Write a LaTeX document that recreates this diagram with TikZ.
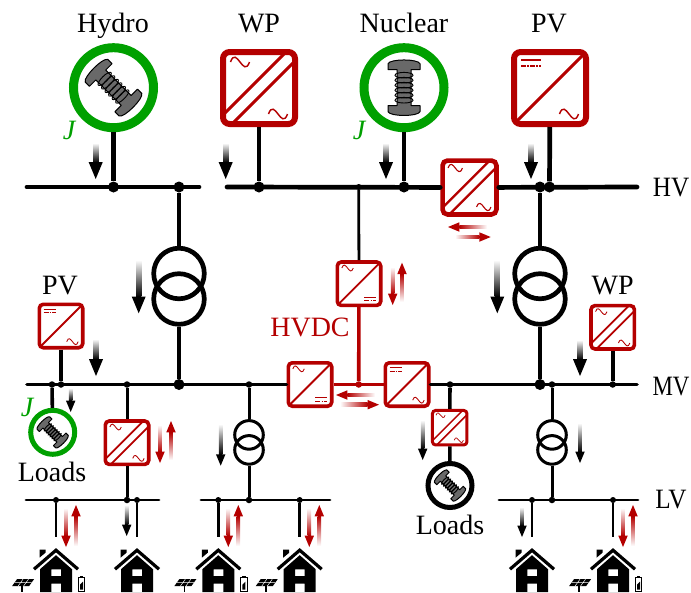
\documentclass[tikz,border=0pt]{standalone}
\usepackage{fontspec}
\setmainfont{Liberation Serif}
\definecolor{convred}{RGB}{180,0,0}
\definecolor{syncgreen}{RGB}{0,160,0}
\definecolor{boltgray}{RGB}{105,105,105}
\tikzset{
  tag/.style={font=\fontsize{28}{30}\selectfont,inner sep=0pt,anchor=base},
  hvline/.style={line width=4.7pt,line cap=round},
  mvline/.style={line width=3.6pt,line cap=round},
  lvline/.style={line width=2.8pt,line cap=round},
  busdot/.style={circle,fill=black,inner sep=0pt,minimum size=#1},
  busdot/.default=6.5pt,
  convbox/.style={draw=convred,fill=white,inner sep=0pt},
  diagline/.style={draw=convred,line width=0.5pt*\convlw},
  symline/.style={draw=convred,line width=0.24pt*\convlw},
  solar/.pic={\fill (-39,31.5) -- (-22,31.5) -- (-27,38.5) -- (-44,38.5) -- cycle;
    \draw[white,line width=.5pt] (-41.5,35) -- (-24.5,35) (-33,31.5) -- (-38,38.5) (-27.5,31.5) -- (-32.5,38.5);
    \draw[line width=1.6pt] (-34,38) -- (-34,44);},
  battery/.pic={\draw[line width=1.1pt] (22.2,29.5) rectangle (28.8,43.5);
    \fill (23.8,27.8) rectangle (27.2,29.5);
    \fill (24,37) -- (27,34) -- (27,42) -- (24,42) -- cycle;},
  housepic/.pic={\fill (-16.5,2) -- (-10.5,2) -- (-10.5,5) -- (-16.5,10) -- cycle;
    \draw[line width=3.2pt] (-22,21.5) -- (0,2.5) -- (22,21.5);
    \fill[even odd rule] (0,7.5) -- (16,21.5) -- (16,44.5) -- (-16,44.5) -- (-16,21.5) -- cycle
      (-4.7,21.7) rectangle (5,28.5) (-4.7,36) rectangle (5,44.5);}
}
\newcommand{\sinewave}[2]{\draw[symline,shift={(#1,#2)}] (-9.5,0) .. controls (-3.5,-17) and (3.5,17) .. (9.5,0);}
\newcommand{\dcmark}[2]{
  \draw[symline,shift={(#1,#2)}] (-10,-3) -- (10,-3);
  \draw[symline,shift={(#1,#2)},dash pattern=on 5pt off 1.2pt on 1.5pt off 1.2pt] (-10,3) -- (10,3);
}
\newcommand{\convAA}{
  \draw[diagline] (-36,27) -- (27,-36);
  \draw[diagline] (-27,36) -- (36,-27);
  \sinewave{-19}{-26}\sinewave{19}{26}
}
\newcommand{\convDA}{
  \draw[diagline] (-34,34) -- (34,-34);
  \dcmark{-19}{-25}\sinewave{19}{26}
}
\newcommand{\convAD}{
  \draw[diagline] (-34,34) -- (34,-34);
  \sinewave{-19}{-26}\dcmark{19}{25}
}
% converter: name, x, y, size, line width, kind
\newcommand{\conv}[6]{
  \node[convbox,minimum size=#4pt-#5pt,line width=#5pt,rounded corners=#4*0.085pt] (#1) at (#2,#3) {};
  \def\convlw{#5}
  \begin{scope}[shift={(#2,#3)},scale=#4/78]
    #6
  \end{scope}
}
% machine: name, x, y, radius, line width, colour, rotation
\newcommand{\machine}[7]{
  \node[circle,draw=#6,line width=#5pt,fill=white,inner sep=0pt,minimum size=2*#4pt] (#1) at (#2,#3) {};
  \begin{scope}[shift={(#2,#3)},rotate=#7,scale=#4/40]
    \draw[fill=boltgray,line width=1pt,line join=round] (-16,-18) -- (-16,-24) .. controls (-14,-29) and (14,-29) .. (16,-24)
      -- (16,-18) -- (7,-18) -- (7,18) -- (16,18) -- (16,24) .. controls (14,29) and (-14,29) .. (-16,24)
      -- (-16,18) -- (-7,18) -- (-7,-18) -- cycle;
    \foreach \yy in {-12.5,-7.5,...,12.5}
      \draw[line width=.9pt] (0,\yy) ellipse (9 and 2.8);
  \end{scope}
}
\newcommand{\flowdown}[5]{
  \shade[top color=white,bottom color=#1] (#2-0.185*#5,#3) rectangle (#2+0.185*#5,#4-1.2*#5);
  \fill[#1] (#2-0.5*#5,#4-1.2*#5) -- (#2+0.5*#5,#4-1.2*#5) -- (#2,#4) -- cycle;
}
\newcommand{\flowup}[5]{
  \shade[bottom color=white,top color=#1] (#2-0.185*#5,#3) rectangle (#2+0.185*#5,#4+1.2*#5);
  \fill[#1] (#2-0.5*#5,#4+1.2*#5) -- (#2+0.5*#5,#4+1.2*#5) -- (#2,#4) -- cycle;
}
\newcommand{\flowleft}[5]{
  \shade[right color=white,left color=#1] (#3,#2-0.185*#5) rectangle (#4+1.2*#5,#2+0.185*#5);
  \fill[#1] (#4+1.2*#5,#2-0.5*#5) -- (#4+1.2*#5,#2+0.5*#5) -- (#4,#2) -- cycle;
}
\newcommand{\flowright}[5]{
  \shade[left color=white,right color=#1] (#3,#2-0.185*#5) rectangle (#4-1.2*#5,#2+0.185*#5);
  \fill[#1] (#4-1.2*#5,#2-0.5*#5) -- (#4-1.2*#5,#2+0.5*#5) -- (#4,#2) -- cycle;
}
\newcommand{\home}[3]{
  \coordinate (#1) at (#2,#3);
  \pic at (#1) {housepic};
}
\begin{document}
\begin{tikzpicture}[x=1pt,y=-1pt]
  \useasboundingbox (0,0) rectangle (691,592);

  % HV level
  \coordinate (hvA) at (27,187);
  \coordinate (hvB) at (199,187);
  \coordinate (hvC) at (227,187);
  \coordinate (hvD) at (637,187);
  \machine{hydro}{113.5}{87.7}{40}{9}{syncgreen}{45}
  \machine{nuclear}{404}{87.7}{40}{9}{syncgreen}{0}
  \conv{wpHV}{259}{88}{78}{6}{\convAA}
  \conv{pvHV}{550}{88}{78}{6}{\convDA}
  \conv{hvlink}{469.5}{187.5}{58.5}{4.6}{\convAA}
  \node[busdot=11pt] (hvHydro) at (113.5,187) {};
  \node[busdot=11pt] (hvTrafoL) at (179,187) {};
  \node[busdot=11pt] (hvWP) at (259,187) {};
  \node[busdot=6pt] (hvDC) at (358.7,187) {};
  \node[busdot=11pt] (hvNuc) at (404,187) {};
  \node[busdot=11pt] (hvTrafoR) at (540,187) {};
  \node[busdot=11pt] (hvPV) at (549.5,187) {};
  \draw[hvline] (hvA) -- (hvB);
  \draw[hvline] (hvC) -- (hvlink);
  \draw[hvline] (hvlink) -- (hvD);
  \draw[hvline,line cap=butt] (hydro) -- (hvHydro);
  \draw[hvline,line cap=butt] (wpHV) -- (hvWP);
  \draw[hvline,line cap=butt] (nuclear) -- (hvNuc);
  \draw[hvline,line cap=butt] (pvHV) -- (hvPV);

  % transformers HV/MV
  \node[circle,draw,line width=4.7pt,inner sep=0pt,minimum size=50.6pt] (trafoLa) at (179,273.5) {};
  \node[circle,draw,line width=4.7pt,inner sep=0pt,minimum size=50.6pt] (trafoLb) at (179,299) {};
  \node[circle,draw,line width=4.7pt,inner sep=0pt,minimum size=50.6pt] (trafoRa) at (540,273.5) {};
  \node[circle,draw,line width=4.7pt,inner sep=0pt,minimum size=50.6pt] (trafoRb) at (540,299) {};

  % MV level
  \coordinate (mvA) at (27,384.5);
  \coordinate (mvD) at (637,384.5);
  \conv{hvdcT}{359}{283.7}{47}{3.6}{\convAD}
  \conv{hvdcL}{310}{384.5}{47}{3.6}{\convAD}
  \conv{hvdcR}{407}{384.5}{47}{3.6}{\convDA}
  \conv{pvMV}{61}{326}{47}{3.6}{\convDA}
  \conv{wpMV}{612.7}{327.3}{47}{3.6}{\convAA}
  \conv{feedA}{127}{442.7}{47}{3.6}{\convAA}
  \conv{feedB}{449.7}{427.7}{37.5}{3}{\convAA}
  \machine{loadG}{52.7}{432.3}{22}{5}{syncgreen}{45}
  \machine{loadK}{450}{485.5}{22}{5}{black}{45}
  \node[busdot] (mvLoad) at (52,384.5) {};
  \node[busdot] (mvPV) at (61,384.5) {};
  \node[busdot] (mvFeedA) at (127,384.5) {};
  \node[busdot=11pt] (mvTrafoL) at (179,384.5) {};
  \node[busdot] (mvTrafoM) at (249,384.5) {};
  \node[busdot,fill=convred] (mvDC) at (358.7,384.5) {};
  \node[busdot] (mvFeedB) at (450,384.5) {};
  \node[busdot=11pt] (mvTrafoR) at (540,384.5) {};
  \node[busdot] (mvTrafoS) at (552,384.5) {};
  \node[busdot] (mvWP) at (612.7,384.5) {};
  \draw[mvline] (mvA) -- (hvdcL);
  \draw[mvline] (hvdcR) -- (mvD);
  \draw[mvline,draw=convred,line cap=butt] (hvdcL) -- (hvdcR);
  \draw[mvline,draw=convred,line cap=butt] (hvdcT) -- (mvDC);
  \draw[lvline,line cap=butt] (hvDC) -- (hvdcT);
  \draw[hvline,line cap=butt] (hvTrafoL) -- (trafoLa);
  \draw[hvline,line cap=butt] (trafoLb) -- (mvTrafoL);
  \draw[hvline,line cap=butt] (hvTrafoR) -- (trafoRa);
  \draw[hvline,line cap=butt] (trafoRb) -- (mvTrafoR);
  \draw[mvline,line cap=butt] (pvMV) -- (mvPV);
  \draw[mvline,line cap=butt] (wpMV) -- (mvWP);
  \draw[mvline,line cap=butt] (mvLoad) -- (loadG);
  \draw[mvline,line cap=butt] (mvFeedB) -- (feedB);
  \draw[mvline,line cap=butt] (feedB) -- (loadK);

  % transformers MV/LV
  \node[circle,draw,line width=3pt,inner sep=0pt,minimum size=28.6pt] (trafoMa) at (249,434.9) {};
  \node[circle,draw,line width=3pt,inner sep=0pt,minimum size=28.6pt] (trafoMb) at (249,449.9) {};
  \node[circle,draw,line width=3pt,inner sep=0pt,minimum size=28.6pt] (trafoSa) at (552,434.9) {};
  \node[circle,draw,line width=3pt,inner sep=0pt,minimum size=28.6pt] (trafoSb) at (552,449.9) {};

  % LV level
  \coordinate (lvA) at (26,500);
  \coordinate (lvB) at (159,500);
  \coordinate (lvC) at (201,500);
  \coordinate (lvD) at (330,500);
  \coordinate (lvE) at (499,500);
  \coordinate (lvF) at (638,500);
  \node[busdot=6pt] (lvH1) at (56,500) {};
  \node[busdot=6.5pt] (lvFeedA) at (127,500) {};
  \node[busdot=6pt] (lvH2) at (137,500) {};
  \node[busdot=6pt] (lvH3) at (218.3,500) {};
  \node[busdot=6.5pt] (lvTrafoM) at (249,500) {};
  \node[busdot=6pt] (lvH4) at (299.7,500) {};
  \node[busdot=6pt] (lvH5) at (532,500) {};
  \node[busdot=6.5pt] (lvTrafoS) at (552,500) {};
  \node[busdot=6pt] (lvH6) at (613,500) {};
  \draw[lvline] (lvA) -- (lvB);
  \draw[lvline] (lvC) -- (lvD);
  \draw[lvline] (lvE) -- (lvF);
  \draw[mvline,line width=3pt,line cap=butt] (mvFeedA) -- (feedA);
  \draw[mvline,line width=3pt,line cap=butt] (feedA) -- (lvFeedA);
  \draw[mvline,line width=3pt,line cap=butt] (mvTrafoM) -- (trafoMa);
  \draw[mvline,line width=3pt,line cap=butt] (trafoMb) -- (lvTrafoM);
  \draw[mvline,line width=3pt,line cap=butt] (mvTrafoS) -- (trafoSa);
  \draw[mvline,line width=3pt,line cap=butt] (trafoSb) -- (lvTrafoS);
  \foreach \hh/\xx in {1/56,2/137,3/218.3,4/299.7,5/532,6/613}{
    \coordinate (drop\hh) at (\xx,536.5);
    \draw[lvline,line cap=butt] (lvH\hh) -- (drop\hh);
    \home{roof\hh}{\xx}{547.7}
  }
  \pic at (roof1) {solar};
  \pic at (roof1) {battery};
  \pic at (roof3) {solar};
  \pic at (roof3) {battery};
  \pic at (roof4) {solar};
  \pic at (roof6) {solar};
  \pic at (roof6) {battery};

  % power flows
  \flowdown{black}{95.7}{143}{179}{14}
  \flowdown{black}{225.7}{143}{179}{14}
  \flowdown{black}{386}{143}{179}{14}
  \flowdown{black}{531}{143}{179}{14}
  \flowdown{black}{138.7}{260}{313.3}{14}
  \flowdown{black}{497.3}{260}{313.3}{14}
  \flowdown{black}{96}{339}{376}{14}
  \flowdown{black}{580}{340}{376}{14}
  \flowdown{black}{70.7}{388}{412}{9.5}
  \flowdown{black}{220.7}{424}{465.7}{9.5}
  \flowdown{black}{422.7}{420}{460}{9.5}
  \flowdown{black}{580}{423}{463}{9.5}
  \flowdown{black}{126.7}{505}{536}{9.5}
  \flowdown{black}{522}{507}{537}{9.5}
  \flowdown{convred}{66}{508}{547}{9.5}
  \flowup{convred}{76}{546}{505}{9.5}
  \flowdown{convred}{228.3}{508}{547}{9.5}
  \flowup{convred}{238.3}{546}{505}{9.5}
  \flowdown{convred}{309.3}{508}{547}{9.5}
  \flowup{convred}{319.3}{546}{505}{9.5}
  \flowdown{convred}{623}{508}{547}{9.5}
  \flowup{convred}{633}{546}{505}{9.5}
  \flowdown{convred}{160}{425}{463}{9.5}
  \flowup{convred}{171}{460}{421}{9.5}
  \flowdown{convred}{392.7}{267}{305}{9.5}
  \flowup{convred}{402}{301.7}{262.7}{9.5}
  \flowleft{convred}{395}{375}{336}{9.5}
  \flowright{convred}{404.7}{340}{379}{9.5}
  \flowleft{convred}{227}{487}{448}{9.5}
  \flowright{convred}{237}{455}{490.7}{9.5}

  % labels
  \node[tag] (tHydro) at (113,32) {Hydro};
  \node[tag] (tWP) at (259,32) {WP};
  \node[tag] (tNuc) at (404,32) {Nuclear};
  \node[tag] (tPV) at (549,32) {PV};
  \node[tag,xscale=.9,transform shape] (tHV) at (671,196) {HV};
  \node[tag,xscale=.82,transform shape] (tMV) at (671,395) {MV};
  \node[tag,xscale=.9,transform shape] (tLV) at (671,508.5) {LV};
  \node[tag] (tPVs) at (60,294) {PV};
  \node[tag] (tWPs) at (612.7,294) {WP};
  \node[tag,text=convred] (tHVDC) at (310,336) {HVDC};
  \node[tag] (tLoadG) at (52,481.7) {Loads};
  \node[tag] (tLoadK) at (450,534.3) {Loads};
  \node[tag,text=syncgreen] (tJa) at (69,139) {\itshape J};
  \node[tag,text=syncgreen] (tJb) at (359,139) {\itshape J};
  \node[tag,text=syncgreen] (tJc) at (27,416.7) {\itshape J};
\end{tikzpicture}
\end{document}
